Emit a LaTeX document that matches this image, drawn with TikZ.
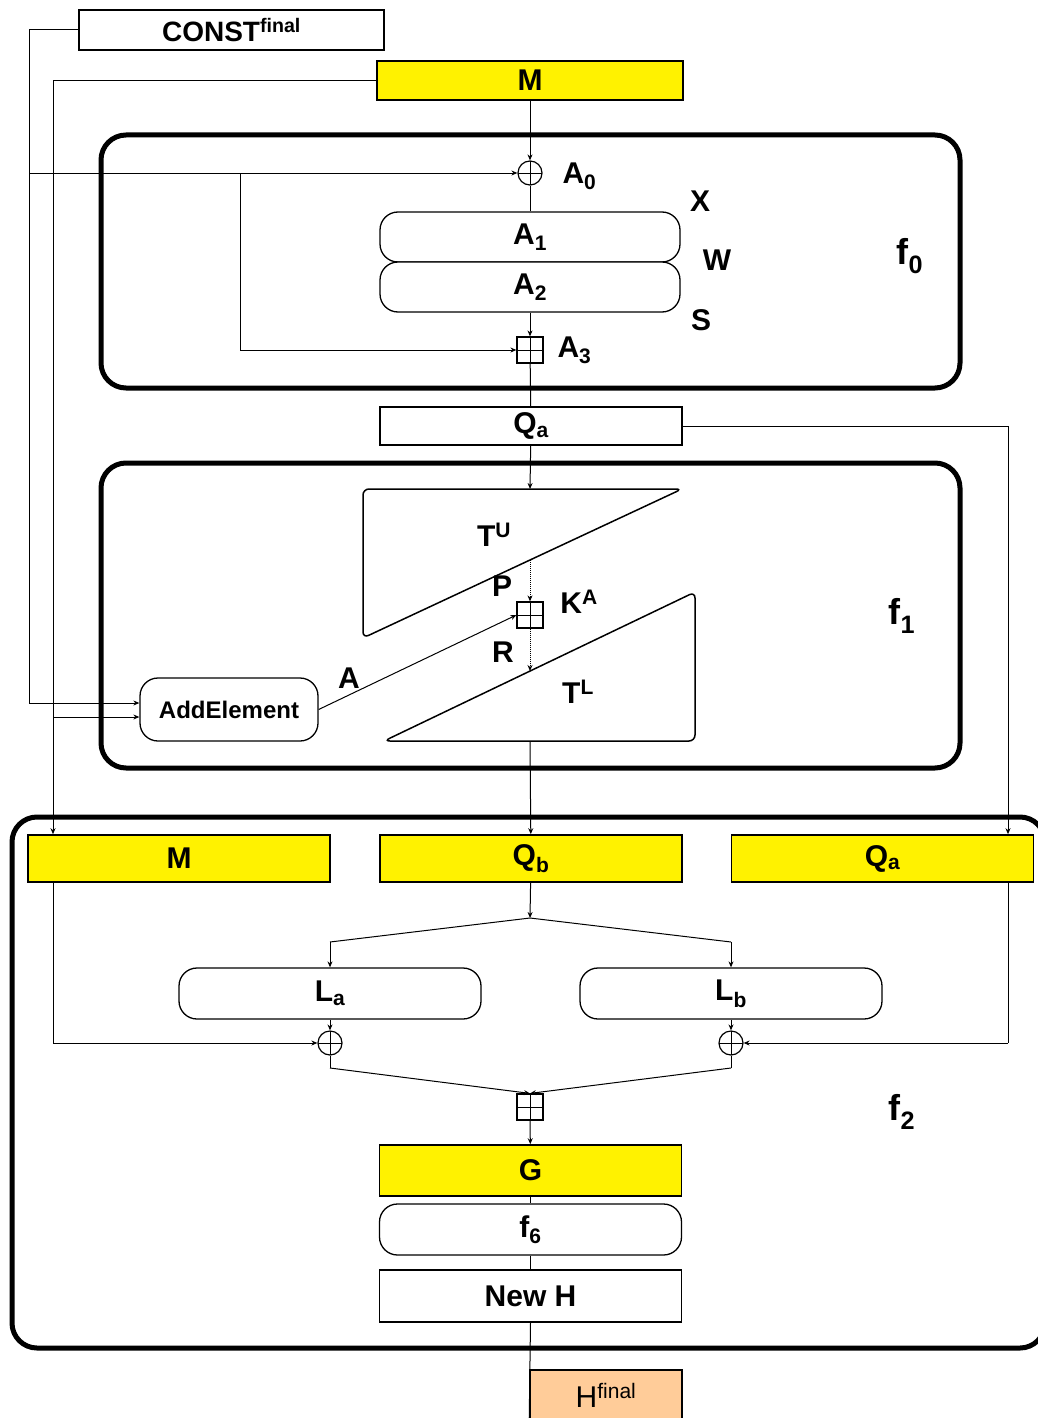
\documentclass[tikz,border=0pt]{standalone}
\usepackage{fontspec}
\setmainfont{Liberation Sans}
\usetikzlibrary{arrows.meta,calc}
\newcommand{\sbx}[1]{\textsubscript{#1}}
\newcommand{\spx}[1]{\textsuperscript{#1}}
\definecolor{peach}{HTML}{FFCC99}
\begin{document}
\begin{tikzpicture}[x=1pt,y=-1pt, line width=1pt,
  >={Stealth[length=6pt,width=5pt]},
  lbl/.style={font=\fontsize{30}{32}\selectfont\bfseries, inner sep=0pt},
  flbl/.style={font=\fontsize{36}{38}\selectfont\bfseries, inner sep=0pt},
  boxbase/.style={draw=black, line width=1.6pt, inner sep=0pt, font=\fontsize{30}{32}\selectfont\bfseries,
    minimum width=302pt, minimum height=47pt},
  ybox/.style={boxbase, fill=yellow},
  wbox/.style={boxbase, fill=white},
  hbox/.style={boxbase, fill=peach, font=\fontsize{30}{32}\selectfont},
  stad/.style={boxbase, fill=white, line width=1.3pt, rounded corners=18pt, minimum height=50pt, minimum width=300pt},
  oplus/.style={circle, draw=black, line width=1.2pt, minimum size=24pt, inner sep=0pt, fill=white,
    path picture={\draw[line width=1pt] (path picture bounding box.north) -- (path picture bounding box.south)
      (path picture bounding box.west) -- (path picture bounding box.east);}},
  bplus/.style={rectangle, draw=black, line width=1.2pt, minimum size=26pt, inner sep=0pt, fill=white,
    path picture={\draw[line width=1pt] (path picture bounding box.north) -- (path picture bounding box.south)
      (path picture bounding box.west) -- (path picture bounding box.east);}},
  frame/.style={draw=black, line width=5pt, rounded corners=25pt},
  tshape/.style={draw=black, line width=1.5pt, rounded corners=6pt}
]
\useasboundingbox (0,0) rectangle (1037,1418);

% frames
\draw[frame] (101,135) rectangle (960,388);
\draw[frame] (101,463) rectangle (960,768);
\draw[frame] (12,817) rectangle (1045,1348);

% top boxes
\node[wbox, minimum width=305pt, minimum height=40pt, font=\fontsize{28}{30}\selectfont\bfseries] (C) at (231.5,30) {CONST\spx{final}};
\node[ybox, minimum width=306pt, minimum height=39pt] (M) at (530,80.5) {M};

% f0
\node[oplus] (A0) at (530,173) {};
\node[lbl, anchor=west] at (562,176) {A\sbx{0}};
\node[stad] (A1) at (530,237) {A\sbx{1}};
\node[stad] (A2) at (530,287) {A\sbx{2}};
\node[lbl] at (700,201) {X};
\node[lbl] at (717,260) {W};
\node[lbl] at (701,320) {S};
\node[bplus] (A3) at (530,350) {};
\node[lbl, anchor=west] at (557,350) {A\sbx{3}};
\node[flbl] at (910,256) {f\sbx{0}};

\node[wbox, minimum width=302pt, minimum height=38pt] (Qa) at (531,426) {Q\sbx{a}};

% f1
\draw[tshape] (363,489) -- (682,489) -- (363,638) -- cycle;
\draw[tshape] (695,592) -- (695,741) -- (384,741) -- cycle;
\coordinate (tut) at (530,489);
\coordinate (tlb) at (530,741);
\coordinate (P) at (530,560);
\coordinate (R) at (530,671);
\node[bplus] (KA) at (530,615) {};
\node[lbl] at (494,535) {T\spx{U}};
\node[lbl] at (502,586) {P};
\node[lbl] at (579,602) {K\spx{A}};
\node[lbl] at (503,652) {R};
\node[lbl] at (578,692) {T\spx{L}};
\node[lbl] at (349,678) {A};
\node[flbl] at (902,616) {f\sbx{1}};
\node[stad, minimum width=178pt, minimum height=63pt, font=\fontsize{24}{26}\selectfont\bfseries] (AE) at (229,709.5) {AddElement};

% f2
\node[ybox] (M2) at (179,858.5) {M};
\node[ybox] (Qb) at (531,858.5) {Q\sbx{b}};
\node[ybox] (Qa2) at (882.5,858.5) {Q\sbx{a}};
\node[stad, minimum width=302pt, minimum height=51pt] (La) at (330,993.5) {L\sbx{a}};
\node[stad, minimum width=302pt, minimum height=51pt] (Lb) at (731,993.5) {L\sbx{b}};
\node[oplus] (XA) at (330,1043) {};
\node[oplus] (XB) at (731,1043) {};
\node[bplus] (SQ) at (530,1107) {};
\node[flbl] at (902,1112) {f\sbx{2}};
\node[ybox, minimum height=51pt] (G) at (530.5,1170.5) {G};
\node[stad, minimum width=302pt, minimum height=51pt] (F6) at (530.5,1229.5) {f\sbx{6}};
\node[wbox, minimum height=52pt] (NH) at (530.5,1296) {New H};
\node[hbox, minimum width=152pt, minimum height=50pt] (HF) at (606,1395) {H\spx{final}};

% coordinates for connectors
\coordinate (c1) at (29,30);
\coordinate (c2) at (29,173);
\coordinate (c3) at (29,703);
\coordinate (b1) at (240,173);
\coordinate (b2) at (240,350);
\coordinate (m1) at (53,80.5);
\coordinate (m2) at (53,717);
\coordinate (m4) at (53,1043);
\coordinate (q1) at (1008,426);
\coordinate (q2) at (1008,1043);
\coordinate (sp) at (530,918);
\coordinate (sl) at (330,942);
\coordinate (sr) at (731,942);
\coordinate (jl) at (330,1068);
\coordinate (jr) at (731,1068);

% connectors
\draw (C.west) -- (c1) -- (c3);
\draw[->] (c3) -- (AE.west |- c3);
\draw[->] (c2) -- (A0.west);
\draw (b1) -- (b2);
\draw[->] (b2) -- (A3.west);
\draw[->] (M.west) -- (m1) -- (m1 |- M2.north);
\draw[->] (m2) -- (AE.west |- m2);
\draw[->] (M) -- (A0);
\draw (A0) -- (A1);
\draw[->] (A2) -- (A3);
\draw (A3) -- (Qa);
\draw[->] (Qa) -- (tut);
\draw[densely dotted,->] (P) -- (KA);
\draw[densely dotted,->] (KA) -- (R);
\draw[->] (AE.east) -- (KA.west);
\draw[->] (tlb) -- (Qb);
\draw[->] (Qa.east) -- (q1) -- (q1 |- Qa2.north);
\draw[->] (Qb) -- (sp);
\draw (sp) -- (sl);
\draw[->] (sl) -- (La);
\draw (sp) -- (sr);
\draw[->] (sr) -- (Lb);
\draw[->] (La) -- (XA);
\draw[->] (Lb) -- (XB);
\draw (m1 |- M2.south) -- (m4);
\draw[->] (m4) -- (XA);
\draw (q1 |- Qa2.south) -- (q2);
\draw[->] (q2) -- (XB);
\draw (XA) -- (jl);
\draw[->] (jl) -- (SQ.north);
\draw (XB) -- (jr);
\draw[->] (jr) -- (SQ.north);
\draw[->] (SQ) -- (G);
\draw (G) -- (F6);
\draw (F6) -- (NH);
\draw (NH.south) -- (HF.south west);
\end{tikzpicture}
\end{document}
